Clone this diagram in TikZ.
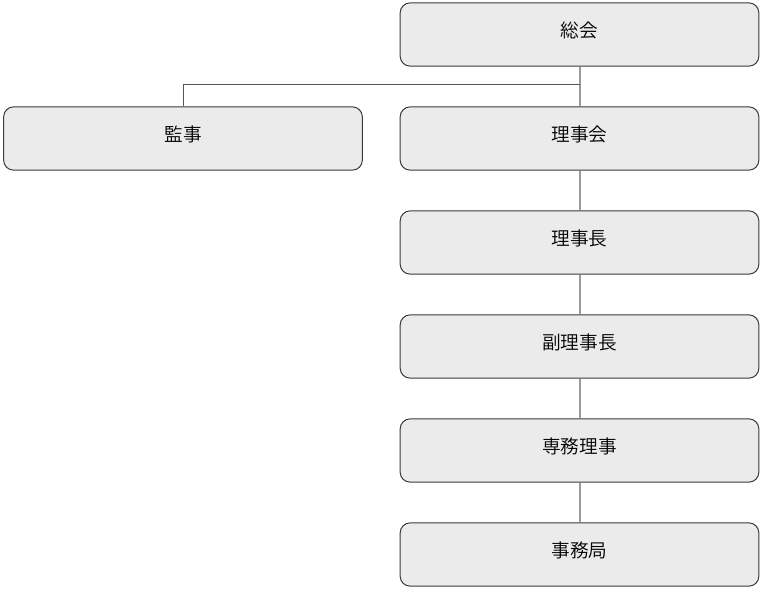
\documentclass[tikz,border=0pt]{standalone}
\usepackage{fontspec}
\newfontfamily\cjk{Noto Sans CJK JP DemiLight}
\definecolor{boxfill}{HTML}{EBEBEB}
\definecolor{boxdraw}{HTML}{3A3A3A}
\definecolor{linkA}{HTML}{9A9A9A}
\definecolor{linkB}{HTML}{555555}
\begin{document}
\begin{tikzpicture}[x=0.75pt,y=-0.75pt,
  orgbox/.style={draw=boxdraw, fill=boxfill, rounded corners=7.5pt, line width=0.75pt,
    minimum width=269pt, minimum height=47.5pt, inner sep=0pt, text height=0.8em, text depth=0.3em,
    font=\cjk\fontsize{14pt}{16pt}\selectfont, text=black},
  link/.style={draw=linkA, line width=0.9pt},
  linkh/.style={draw=linkB, line width=0.75pt}]
\useasboundingbox (0,0) rectangle (764,590);
\node[orgbox] (soukai) at (579.5,34.5) {総会};
\node[orgbox] (kanji) at (183,138.5) {監事};
\node[orgbox] (rijikai) at (579.5,138.5) {理事会};
\node[orgbox] (rijicho) at (579.5,242.5) {理事長};
\node[orgbox] (fuku) at (579.5,346.5) {副理事長};
\node[orgbox] (senmu) at (579.5,450.5) {専務理事};
\node[orgbox] (jimu) at (579.5,554.5) {事務局};
\coordinate (j) at (580,84);
\draw[link] (soukai.south -| j) -- (rijikai.north -| j);
\draw[linkh] (j) -| (kanji.north);
\draw[link] (rijikai.south -| j) -- (rijicho.north -| j);
\draw[link] (rijicho.south -| j) -- (fuku.north -| j);
\draw[link] (fuku.south -| j) -- (senmu.north -| j);
\draw[link] (senmu.south -| j) -- (jimu.north -| j);
\end{tikzpicture}
\end{document}
